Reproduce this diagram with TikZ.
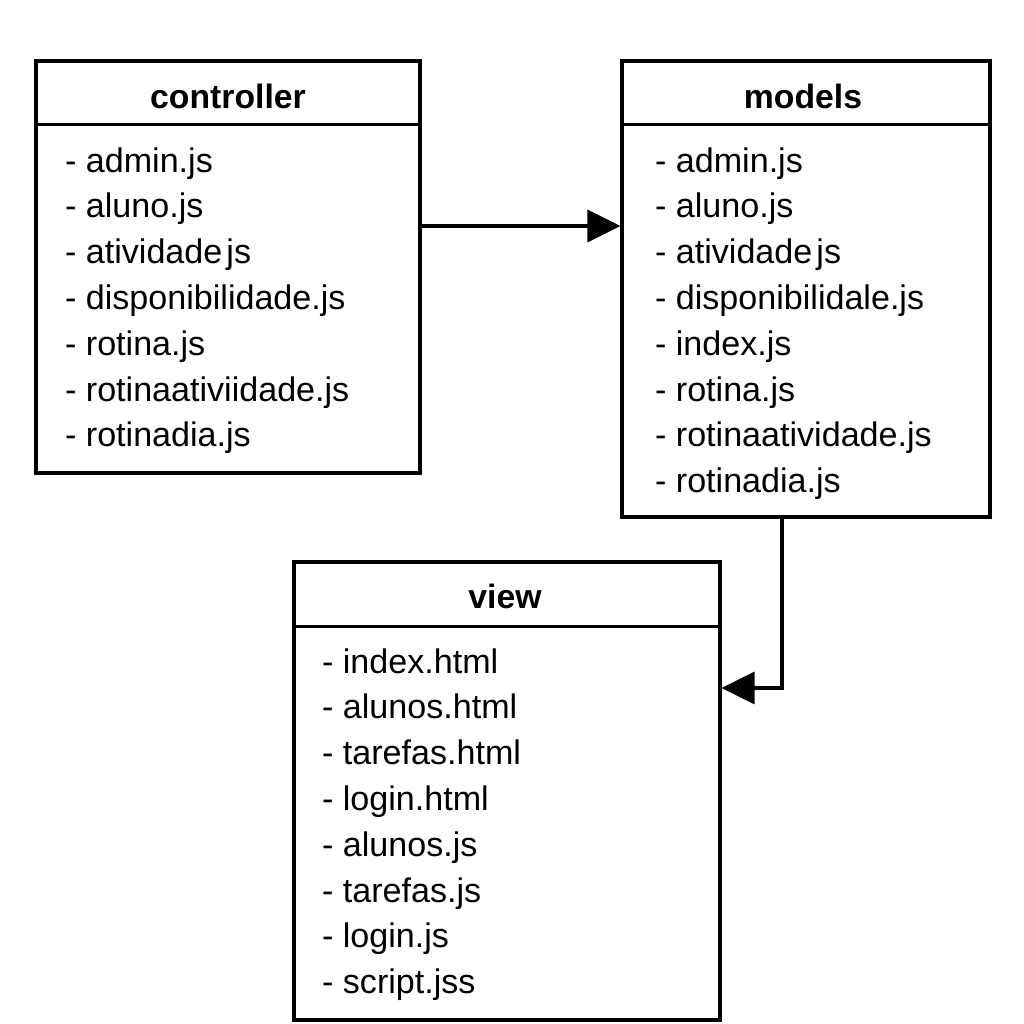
\documentclass[tikz,border=0pt]{standalone}
\usepackage{fontspec}
\setmainfont{Liberation Sans}
\usepackage{tikz}
\usetikzlibrary{calc}
\usetikzlibrary{arrows.meta,positioning}

\begin{document}
\begin{tikzpicture}[
		box/.style={draw,line width=0.9pt,inner sep=0pt},
		title/.style={font=\fontsize{9.6}{11.5}\selectfont\bfseries,inner sep=0pt},
		item/.style={font=\fontsize{9.7}{11.5}\selectfont,anchor=base west,inner sep=0pt},
		arr/.style={line width=0.9pt,-{Triangle[length=0.33cm,width=0.32cm]}}]
		\useasboundingbox (0,0) rectangle (10.24,10.24);
		% the three boxes
		\node[box,minimum width=3.84cm,minimum height=4.12cm] (controller) at (2.28,7.57) {};
		\node[box,minimum width=3.68cm,minimum height=4.56cm] (models) at (8.06,7.35) {};
		\node[box,minimum width=4.26cm,minimum height=4.58cm] (view) at (5.07,2.33) {};
		% headers
		\draw[line width=0.9pt] ($(controller.north west)+(0,-0.65)$) -- ($(controller.north east)+(0,-0.65)$);
		\draw[line width=0.9pt] ($(models.north west)+(0,-0.65)$) -- ($(models.north east)+(0,-0.65)$);
		\draw[line width=0.9pt] ($(view.north west)+(0,-0.66)$) -- ($(view.north east)+(0,-0.66)$);
		\node[title] (controllertitle) at ($(controller.north)+(0,-0.37)$) {controller};
		\node[title] (modelstitle) at ($(models.north)+(-0.03,-0.37)$) {models};
		\node[title] (viewtitle) at ($(view.north)+(-0.02,-0.36)$) {view};
		% file lists
		\foreach \f [count=\i] in {admin.js,aluno.js,atividade\hspace{0.12em}js,disponibilidade.js,rotina.js,rotinaativiidade.js,rotinadia.js}
			\node[item] (ctrl\i) at ($(controller.north west)+(0.30,{-0.668-0.458*\i})$) {- \f};
		\foreach \f [count=\i] in {admin.js,aluno.js,atividade\hspace{0.12em}js,disponibilidale.js,index.js,rotina.js,rotinaatividade.js,rotinadia.js}
			\node[item] (mod\i) at ($(models.north west)+(0.34,{-0.668-0.458*\i})$) {- \f};
		\foreach \f [count=\i] in {index.html,alunos.html,tarefas.html,login.html,alunos.js,tarefas.js,login.js,script.jss}
			\node[item] (view\i) at ($(view.north west)+(0.29,{-0.668-0.458*\i})$) {- \f};
		% connectors
		\coordinate (c1) at ($(controller.east)+(0,0.41)$);
		\draw[arr] (c1) -- (c1 -| models.west);
		\coordinate (m1) at ($(models.south)+(-0.24,0)$);
		\coordinate (v1) at ($(view.east)+(0,1.03)$);
		\draw[arr] (m1) |- (v1);
	\end{tikzpicture}
\end{document}
